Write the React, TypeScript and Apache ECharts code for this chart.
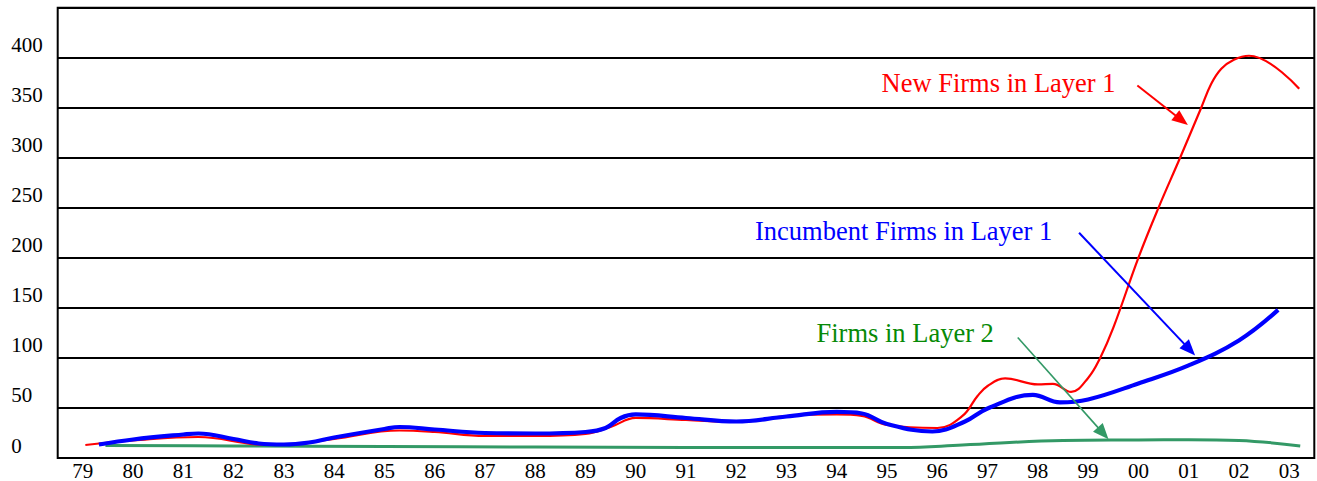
import React, { useEffect, useRef } from 'react';
import * as echarts from 'echarts';

const years = ['79', '80', '81', '82', '83', '84', '85', '86', '87', '88', '89', '90', '91', '92', '93', '94', '95', '96', '97', '98', '99', '00', '01', '02', '03'];

// positions are in category-index units (79 = 0, 03 = 24)
const newFirmsX = [0.05, 1, 2.3, 3.5, 4, 5, 6.3, 7, 8, 9, 10, 10.5, 11, 12, 13, 14, 15, 15.5, 16, 17, 17.5, 17.8, 18, 18.35, 19, 19.3, 19.66, 20, 20.24, 20.5, 21, 21.4, 21.83, 22.25, 22.45, 22.65, 22.9, 23.2, 24.2];
const newFirmsY = [13, 17.5, 21, 13.5, 13, 19, 27.5, 26, 22, 22, 24, 31, 40, 38, 36, 42, 43.5, 42, 33, 30, 42, 62, 72, 79.5, 73.5, 74, 66, 80, 100, 130, 200, 250, 300, 350, 374, 389, 398, 402, 369];

const incumbentX = [0.32, 1, 2, 2.3, 3, 3.5, 4, 4.5, 5, 6, 6.3, 7, 8, 9, 10, 10.4, 10.7, 11, 12, 13, 14, 15, 15.5, 16, 16.9, 17.55, 18, 18.9, 19.44, 20, 21, 22, 23, 23.78];
const incumbentY = [13.5, 18.5, 23.5, 24.5, 19, 14.5, 13.5, 15.5, 20.5, 29, 31, 28.5, 25, 24.5, 26, 30, 40, 43.5, 40, 36.5, 41.5, 46, 44.5, 34, 26.5, 36.5, 49.5, 63, 55.5, 58.5, 74.5, 92.5, 117.5, 148];

const layer2X = [0.45, 3, 6, 9, 12, 15, 16.3, 17.5, 19.5, 21, 22, 23, 24.22];
const layer2Y = [12.5, 12, 11.5, 11, 10.5, 10.5, 10.5, 13, 17.5, 18, 18.3, 17.5, 12];

// annotation arrows: [startX, startY, endX, endY] in data units
const newFirmsArrow = [20.98, 372.2, 21.86, 337.6];
const incumbentArrow = [19.82, 225.1, 22.02, 108.3];
const layer2Arrow = [18.6, 120.4, 20.3, 24.6];

const yMin = 0;
const yMax = 450;
const yStep = 50;

const FONT = '"Liberation Serif", "Times New Roman", serif';

const zip = (xs: number[], ys: number[]) => xs.map((x, i) => [x, ys[i]]);

const arrow = (a: number[], color: string, width: number) => ({
  silent: true,
  animation: false,
  symbol: ['none', 'triangle'],
  symbolSize: [13, 16],
  label: { show: false },
  emphasis: { disabled: true },
  lineStyle: { color, width, type: 'solid' },
  data: [[{ coord: [a[0], a[1]] }, { coord: [a[2], a[3]] }]],
});

export default function App() {
  const ref = useRef<HTMLDivElement>(null);
  useEffect(() => {
    document.body.style.margin = '0';
    const chart = echarts.init(ref.current!, null, { renderer: 'svg' });
    chart.setOption({
      animation: false,
      backgroundColor: '#fff',
      grid: {
        left: 57.7,
        right: 2.7,
        top: 7.7,
        bottom: 20.5,
        show: true,
        borderColor: '#000',
        borderWidth: 2,
        backgroundColor: 'transparent',
      },
      xAxis: [
        {
          type: 'category',
          data: years,
          boundaryGap: true,
          axisLine: { show: false },
          axisTick: { show: false },
          splitLine: { show: false },
          axisLabel: { interval: 0, fontFamily: FONT, fontSize: 21, color: '#000', margin: 2 },
        },
        { type: 'value', min: -0.5, max: 24.5, show: false },
      ],
      yAxis: {
        type: 'value',
        min: yMin,
        max: yMax,
        interval: yStep,
        axisLine: { show: false },
        axisTick: { show: false },
        splitLine: { lineStyle: { color: '#000', width: 2 } },
        axisLabel: {
          fontFamily: FONT,
          fontSize: 21,
          color: '#000',
          align: 'left',
          verticalAlign: 'bottom',
          margin: 46.5,
          padding: [0, 0, 2, 0],
          showMaxLabel: false,
        },
      },
      series: [
        {
          name: 'Firms in Layer 2',
          type: 'line',
          xAxisIndex: 1,
          data: zip(layer2X, layer2Y),
          showSymbol: false,
          smooth: 0.4,
          lineStyle: { color: '#339966', width: 3 },
          markLine: arrow(layer2Arrow, '#339966', 1.6),
        },
        {
          name: 'New Firms in Layer 1',
          type: 'line',
          xAxisIndex: 1,
          data: zip(newFirmsX, newFirmsY),
          showSymbol: false,
          smooth: 0.4,
          lineStyle: { color: '#ff0000', width: 2.2 },
          markLine: arrow(newFirmsArrow, '#ff0000', 2),
        },
        {
          name: 'Incumbent Firms in Layer 1',
          type: 'line',
          xAxisIndex: 1,
          data: zip(incumbentX, incumbentY),
          showSymbol: false,
          smooth: 0.4,
          lineStyle: { color: '#0000ff', width: 4.2 },
          markLine: arrow(incumbentArrow, '#0000ff', 2),
        },
      ],
      graphic: [
        {
          type: 'text',
          left: 881.5,
          top: 69.5,
          style: { text: 'New Firms in Layer 1', font: `26.5px ${FONT}`, fill: '#ff0000' },
        },
        {
          type: 'text',
          left: 755,
          top: 217,
          style: { text: 'Incumbent Firms in Layer 1', font: `26.5px ${FONT}`, fill: '#0000ff' },
        },
        {
          type: 'text',
          left: 816.5,
          top: 319.5,
          style: { text: 'Firms in Layer 2', font: `26.5px ${FONT}`, fill: '#078a07' },
        },
      ],
    });
    return () => chart.dispose();
  }, []);
  return <div ref={ref} style={{ width: 1317, height: 481 }} />;
}
